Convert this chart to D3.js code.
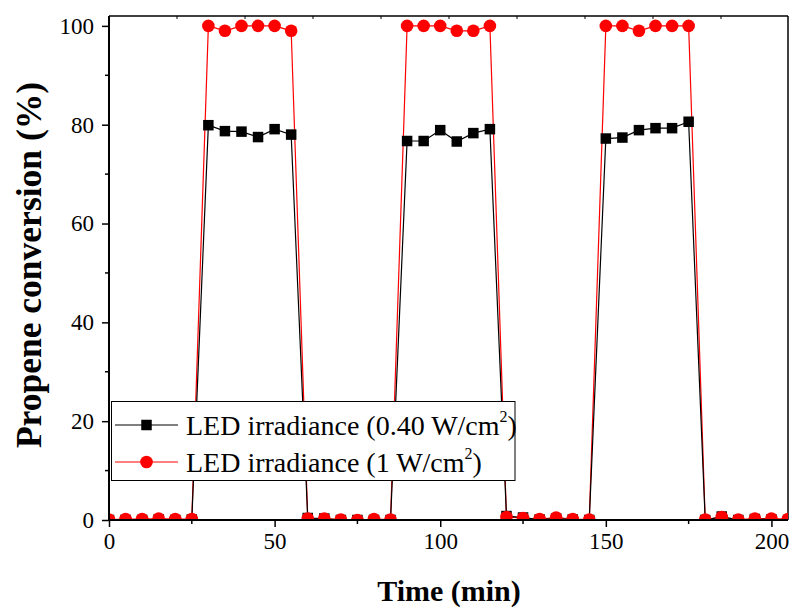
<!DOCTYPE html>
<html>
<head>
<meta charset="utf-8">
<script src="https://cdn.jsdelivr.net/npm/d3@7"></script>
<style>
  body { margin: 0; background: #fff; }
  svg { display: block; }
  text { font-family: "Liberation Serif", "Times New Roman", serif; fill: #000; }
</style>
</head>
<body>
<svg id="chart" width="793" height="607"></svg>
<script>
// ---------- data ----------
const times = [0,5,10,15,20,25,30,35,40,45,50,55,60,65,70,75,80,85,90,95,100,105,110,115,
               120,125,130,135,140,145,150,155,160,165,170,175,180,185,190,195,200,205];
const seriesLow = [ // 0.40 W/cm2
  0,0,0,0.1,0,0.1, 79.9,78.7,78.6,77.5,79.1,78.0,
  0.4,0.3,0,0,0,0, 76.7,76.7,78.9,76.6,78.3,79.1,
  0.8,0.5,0.1,0.3,0.1,0, 77.2,77.4,78.9,79.3,79.3,80.6,
  0,0.7,0,0.2,0.1,0
];
const seriesHigh = [ // 1 W/cm2
  0.1,0.2,0.2,0.3,0.2,0.2, 100,99,100,100,100,99,
  0.3,0.3,0.1,0,0.2,0.1, 100,100,100,99,99,100,
  0.6,0.4,0.2,0.5,0.2,0.1, 100,100,99,100,100,100,
  0.1,0.6,0.1,0.3,0.3,0.2
];
const seriesNames = ["LED irradiance (0.40 W/cm", "LED irradiance (1 W/cm"];
const xTicks = [0,50,100,150,200];
const xMinorTicks = [25,75,125,175];
const yTicks = [0,20,40,60,80,100];
const yMinorTicks = [10,30,50,70,90];

// ---------- layout ----------
const L = 109, R = 788, T = 16, B = 520;
const svg = d3.select("#chart");
const x = d3.scaleLinear().domain([0,205]).range([L,R]);
const y = d3.scaleLinear().domain([0,102]).range([B,T]);

svg.append("defs").append("clipPath").attr("id","clip")
  .append("rect").attr("x",L).attr("y",T).attr("width",R-L).attr("height",B-T);

// frame top/right
svg.append("line").attr("x1",L).attr("x2",R).attr("y1",T).attr("y2",T).attr("stroke","#000").attr("stroke-width",1.5);
svg.append("line").attr("x1",R).attr("x2",R).attr("y1",T).attr("y2",B).attr("stroke","#000").attr("stroke-width",1.5);
// tiny top ticks
const topTicks = d3.range(1,10).map(k => L + 68*k);
svg.selectAll(".tt").data(topTicks).enter().append("line")
  .attr("x1",d=>d).attr("x2",d=>d).attr("y1",T).attr("y2",T+3).attr("stroke","#000").attr("stroke-width",1);

// ---------- series ----------
const pts = (vals) => times.map((t,i)=>[t, vals[i]]);
const line = d3.line().x(d=>x(d[0])).y(d=>y(d[1]));
const g = svg.append("g").attr("clip-path","url(#clip)");

g.append("path").attr("d", line(pts(seriesHigh))).attr("fill","none").attr("stroke","#ff0000").attr("stroke-width",1.2);
g.append("path").attr("d", line(pts(seriesLow))).attr("fill","none").attr("stroke","#000").attr("stroke-width",1.2);
const S = 10.5;
g.selectAll(".sq").data(pts(seriesLow)).enter().append("rect")
  .attr("x",d=>x(d[0])-S/2).attr("y",d=>y(d[1])-S/2).attr("width",S).attr("height",S).attr("fill","#000");
g.selectAll(".ci").data(pts(seriesHigh)).enter().append("circle")
  .attr("cx",d=>x(d[0])).attr("cy",d=>y(d[1])).attr("r",6.3).attr("fill","#ff0000");

// ---------- axes ----------
const xAxis = svg.append("g").attr("transform",`translate(0,${B})`)
  .call(d3.axisBottom(x).tickValues(xTicks).tickSize(7).tickPadding(6).tickFormat(d3.format("d")));
xAxis.append("g").selectAll("line").data(xMinorTicks).enter().append("line")
  .attr("x1",d=>x(d)).attr("x2",d=>x(d)).attr("y1",0).attr("y2",4).attr("stroke","#000").attr("stroke-width",1.5);
const yAxis = svg.append("g").attr("transform",`translate(${L},0)`)
  .call(d3.axisLeft(y).tickValues(yTicks).tickSize(7).tickPadding(8).tickFormat(d3.format("d")));
yAxis.append("g").selectAll("line").data(yMinorTicks).enter().append("line")
  .attr("x1",0).attr("x2",-4).attr("y1",d=>y(d)).attr("y2",d=>y(d)).attr("stroke","#000").attr("stroke-width",1.5);

[xAxis, yAxis].forEach(a => {
  a.select(".domain").attr("stroke","#000").attr("stroke-width",2);
  a.selectAll(".tick line").attr("stroke","#000").attr("stroke-width",1.5);
  a.selectAll(".tick text").attr("font-family","'Liberation Serif', serif").attr("font-size",23).attr("fill","#000");
});
xAxis.select(".domain").attr("d",`M${L},0H${R}`);
yAxis.select(".domain").attr("d",`M0,${B}V${T}`);

// ---------- titles ----------
svg.append("text").attr("x",449).attr("y",601).attr("text-anchor","middle")
  .attr("font-size",30).attr("font-weight","bold").text("Time (min)");
svg.append("text").attr("transform","translate(41,265) rotate(-90)").attr("text-anchor","middle")
  .attr("font-size",35.5).attr("font-weight","bold").text("Propene conversion (%)");

// ---------- legend ----------
const lg = svg.append("g");
lg.append("rect").attr("x",111.5).attr("y",401.5).attr("width",403.5).attr("height",79)
  .attr("fill","#fff").attr("stroke","#000").attr("stroke-width",1);
const rows = [
  {name: seriesNames[0], color:"#000", shape:"square", cy:425},
  {name: seriesNames[1], color:"#ff0000", shape:"circle", cy:462}
];
rows.forEach(r => {
  lg.append("line").attr("x1",115).attr("x2",178).attr("y1",r.cy).attr("y2",r.cy).attr("stroke",r.color).attr("stroke-width",1.2);
  if (r.shape === "square") lg.append("rect").attr("x",146.5-S/2).attr("y",r.cy-S/2).attr("width",S).attr("height",S).attr("fill",r.color);
  else lg.append("circle").attr("cx",146.5).attr("cy",r.cy).attr("r",6.3).attr("fill",r.color);
  const t = lg.append("text").attr("x",186).attr("y",r.cy+10).attr("font-size",28);
  t.append("tspan").text(r.name);
  t.append("tspan").attr("font-size",16).attr("dy",-13).text("2");
  t.append("tspan").attr("dy",13).text(")");
});
</script>
</body>
</html>
